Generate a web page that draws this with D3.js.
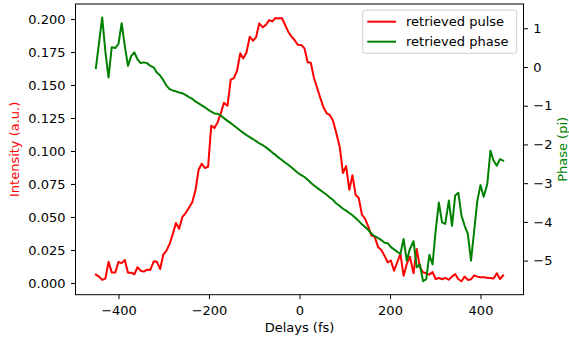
<!DOCTYPE html>
<html>
<head>
<meta charset="utf-8">
<script src="https://cdn.jsdelivr.net/npm/d3@7"></script>
<style>
  html, body { margin: 0; padding: 0; background: #fff; }
  svg { display: block; font-family: "DejaVu Sans", sans-serif; }
</style>
</head>
<body>
<svg id="chart" width="569" height="341"></svg>
<script>
// Delay grid (fs)
const delays = [
  -450, -443, -436, -429, -422, -415, -407, -400, -393, -386,
  -379, -372, -365, -358, -351, -344, -337, -330, -322, -315,
  -308, -301, -294, -287, -280, -273, -266, -259, -252, -245,
  -237, -230, -223, -216, -209, -202, -195, -188, -181, -174,
  -167, -159, -152, -145, -138, -131, -124, -117, -110, -103,
  -96, -89, -81, -74, -67, -60, -53, -46, -39, -32,
  -25, -18, -11, -4, 4, 11, 18, 25, 32, 39,
  46, 53, 60, 67, 74, 81, 89, 96, 103, 110,
  117, 124, 131, 138, 145, 152, 159, 166, 174, 181,
  188, 195, 202, 209, 216, 223, 230, 237, 244, 252,
  259, 266, 273, 280, 287, 294, 301, 308, 315, 322,
  330, 337, 344, 351, 358, 365, 372, 379, 386, 393,
  400, 407, 415, 422, 429, 436, 443, 450
];

// Retrieved pulse intensity (a.u.)
const intensity = [
  0.0063, 0.0048, 0.0023, 0.0033, 0.0160, 0.0080, 0.0080, 0.0160, 0.0150, 0.0174,
  0.0078, 0.0078, 0.0066, 0.0119, 0.0093, 0.0086, 0.0101, 0.0098, 0.0164, 0.0160,
  0.0106, 0.0214, 0.0245, 0.0295, 0.0370, 0.0455, 0.0410, 0.0498, 0.0528, 0.0566,
  0.0611, 0.0700, 0.0858, 0.0904, 0.0871, 0.0881, 0.1192, 0.1174, 0.1217, 0.1285,
  0.1366, 0.1343, 0.1540, 0.1553, 0.1608, 0.1740, 0.1702, 0.1748, 0.1866, 0.1836,
  0.1861, 0.1967, 0.1937, 0.1957, 0.1992, 0.1982, 0.2008, 0.2005, 0.2008, 0.1957,
  0.1904, 0.1869, 0.1841, 0.1805, 0.1803, 0.1778, 0.1672, 0.1669, 0.1553, 0.1477,
  0.1402, 0.1331, 0.1286, 0.1273, 0.1230, 0.1141, 0.1028, 0.0833, 0.0886, 0.0707,
  0.0816, 0.0667, 0.0644, 0.0517, 0.0485, 0.0427, 0.0359, 0.0351, 0.0270, 0.0250,
  0.0205, 0.0157, 0.0169, 0.0093, 0.0157, 0.0220, 0.0055, 0.0144, 0.0199, 0.0073,
  0.0258, 0.0119, 0.0081, 0.0073, 0.0063, 0.0083, 0.0030, 0.0038, 0.0028, 0.0038,
  0.0025, 0.0048, 0.0068, 0.0028, 0.0013, 0.0048, 0.0023, 0.0028, 0.0058, 0.0048,
  0.0043, 0.0043, 0.0040, 0.0038, 0.0033, 0.0073, 0.0030, 0.0058
];

// Retrieved phase (units of pi)
const phase = [
  -0.03, 0.62, 1.28, 0.40, -0.27, 0.51, 0.49, 0.60, 1.13, 0.54,
  0.03, 0.28, 0.38, 0.20, 0.10, 0.12, 0.10, 0.03, -0.01, -0.15,
  -0.22, -0.34, -0.48, -0.57, -0.605, -0.63, -0.66, -0.675, -0.72, -0.77,
  -0.82, -0.89, -0.94, -0.99, -1.04, -1.10, -1.155, -1.20, -1.21, -1.25,
  -1.32, -1.39, -1.45, -1.51, -1.575, -1.64, -1.70, -1.76, -1.81, -1.86,
  -1.915, -1.97, -2.02, -2.075, -2.14, -2.21, -2.27, -2.34, -2.40, -2.465,
  -2.525, -2.59, -2.66, -2.73, -2.79, -2.84, -2.91, -2.99, -3.06, -3.12,
  -3.18, -3.24, -3.30, -3.37, -3.43, -3.52, -3.59, -3.66, -3.71, -3.77,
  -3.83, -3.90, -3.98, -4.06, -4.13, -4.21, -4.30, -4.37, -4.42, -4.47,
  -4.54, -4.55, -4.65, -4.71, -4.77, -4.83, -4.44, -5.00, -4.70, -4.50,
  -5.17, -5.10, -5.53, -5.48, -4.85, -5.10, -4.21, -3.50, -4.01, -4.05,
  -3.45, -4.10, -3.32, -3.25, -3.84, -4.10, -4.31, -5.00, -4.23, -3.45,
  -3.05, -3.35, -3.02, -2.16, -2.42, -2.55, -2.38, -2.42
];

const xTicks = [-400, -200, 0, 200, 400];
const intensityTicks = [0, 0.025, 0.05, 0.075, 0.1, 0.125, 0.15, 0.175, 0.2];
const phaseTicks = [-5, -4, -3, -2, -1, 0, 1];

const seriesNames = ["retrieved pulse", "retrieved phase"];
const seriesColors = ["#ff0000", "#008000"];

// Plot frame
const plot = { left: 75.5, right: 523.5, top: 4, bottom: 294.7 };
const fontSize = 13;

const svg = d3.select("#chart");

const x = d3.scaleLinear().domain([-495, 495]).range([plot.left, plot.right]);
const yL = d3.scaleLinear().domain([-0.0089, 0.2114]).range([plot.bottom, plot.top]);
const yR = d3.scaleLinear().domain([-5.88, 1.627]).range([plot.bottom, plot.top]);

const minus = s => String(s).replace(/-/g, "\u2212");

// Curves
const pts = delays.map((d, i) => ({ d, I: intensity[i], p: phase[i] }));

svg.append("path")
  .datum(pts)
  .attr("fill", "none")
  .attr("stroke", seriesColors[0])
  .attr("stroke-width", 2)
  .attr("stroke-linejoin", "round")
  .attr("stroke-linecap", "square")
  .attr("d", d3.line().x(o => x(o.d)).y(o => yL(o.I)));

svg.append("path")
  .datum(pts)
  .attr("fill", "none")
  .attr("stroke", seriesColors[1])
  .attr("stroke-width", 2)
  .attr("stroke-linejoin", "round")
  .attr("stroke-linecap", "square")
  .attr("d", d3.line().x(o => x(o.d)).y(o => yR(o.p)));

// Axes
function styleAxis(g) {
  g.select(".domain").remove();
  g.selectAll(".tick line").attr("stroke", "#000").attr("stroke-width", 1);
  g.selectAll(".tick text")
    .attr("fill", "#000")
    .style("font-size", fontSize + "px")
    .style("font-family", "DejaVu Sans, sans-serif");
}

svg.append("g")
  .attr("transform", `translate(0,${plot.bottom})`)
  .call(d3.axisBottom(x).tickValues(xTicks).tickSize(4.5).tickPadding(6.6).tickFormat(d => minus(d)))
  .call(styleAxis);

svg.append("g")
  .attr("transform", `translate(${plot.left},0)`)
  .call(d3.axisLeft(yL).tickValues(intensityTicks).tickSize(4.5).tickPadding(5.5).tickFormat(d3.format(".3f")))
  .call(styleAxis);

svg.append("g")
  .attr("transform", `translate(${plot.right},0)`)
  .call(d3.axisRight(yR).tickValues(phaseTicks).tickSize(4.5).tickPadding(5.3).tickFormat(d => minus(d)))
  .call(styleAxis);

// Frame
svg.append("rect")
  .attr("x", plot.left).attr("y", plot.top)
  .attr("width", plot.right - plot.left)
  .attr("height", plot.bottom - plot.top)
  .attr("fill", "none")
  .attr("stroke", "#000")
  .attr("stroke-width", 1);

// Axis titles
svg.append("text")
  .attr("x", (plot.left + plot.right) / 2)
  .attr("y", 331.5)
  .attr("text-anchor", "middle")
  .style("font-size", fontSize + "px")
  .attr("fill", "#000")
  .text("Delays (fs)");

svg.append("text")
  .attr("transform", `translate(14.5,${(plot.top + plot.bottom) / 2}) rotate(-90)`)
  .attr("text-anchor", "middle")
  .attr("dominant-baseline", "central")
  .style("font-size", fontSize + "px")
  .attr("fill", seriesColors[0])
  .text("Intensity (a.u.)");

svg.append("text")
  .attr("transform", `translate(562,${(plot.top + plot.bottom) / 2}) rotate(-90)`)
  .attr("text-anchor", "middle")
  .attr("dominant-baseline", "central")
  .style("font-size", fontSize + "px")
  .attr("fill", seriesColors[1])
  .text("Phase (pi)");

// Legend
const legend = svg.append("g").attr("transform", "translate(362.7,10)");
legend.append("rect")
  .attr("width", 154).attr("height", 43.3)
  .attr("rx", 2.6).attr("ry", 2.6)
  .attr("fill", "#fff").attr("fill-opacity", 0.8)
  .attr("stroke", "#cccccc").attr("stroke-width", 1);

seriesNames.forEach((name, i) => {
  const yy = 11.7 + i * 20;
  legend.append("line")
    .attr("x1", 4.6).attr("x2", 33.3)
    .attr("y1", yy).attr("y2", yy)
    .attr("stroke", seriesColors[i]).attr("stroke-width", 2);
  legend.append("text")
    .attr("x", 43.3).attr("y", yy)
    .attr("dominant-baseline", "central")
    .style("font-size", fontSize + "px")
    .attr("fill", "#000")
    .text(name);
});
</script>
</body>
</html>
